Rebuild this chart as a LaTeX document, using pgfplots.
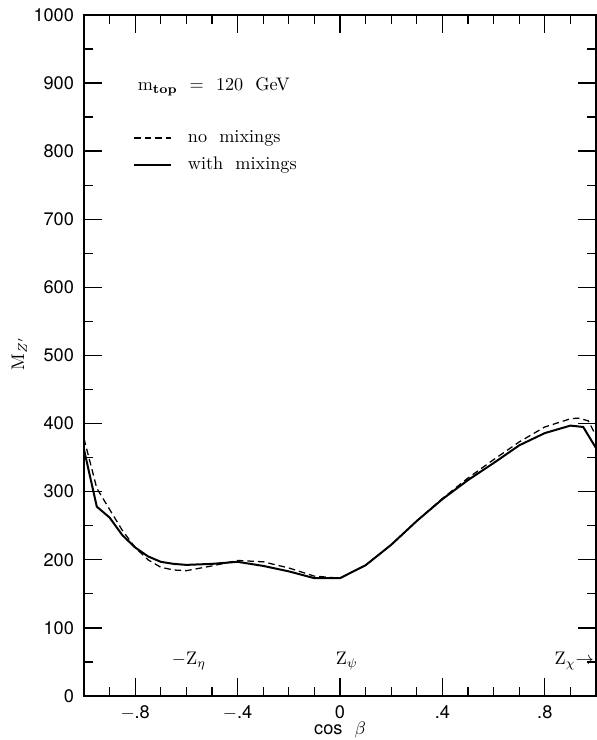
\documentclass[border=0pt]{standalone}
\usepackage{fontspec}
\usepackage{pgfplots}
\pgfplotsset{compat=1.18}
\usetikzlibrary{calc}
\newfontfamily\helv{TeX Gyre Heros}

% no mixings
\pgfplotstableread{
x y
-1.00 378
-0.95 305
-0.90 274
-0.85 243
-0.80 218
-0.75 200
-0.70 189
-0.65 185
-0.60 184
-0.50 191
-0.40 199
-0.30 197
-0.20 188
-0.10 176
 0.00 173
 0.10 192
 0.20 222
 0.30 257
 0.40 290
 0.50 320
 0.60 347
 0.70 373
 0.80 395
 0.90 407
 0.93 408
 0.97 404
 1.00 382
}\nomix

% with mixings
\pgfplotstableread{
x y
-1.00 362
-0.95 278
-0.90 262
-0.85 236
-0.80 218
-0.75 205
-0.70 197
-0.65 194
-0.60 192.5
-0.50 194
-0.40 197
-0.30 191
-0.20 183
-0.10 173
 0.00 173
 0.10 192
 0.20 222
 0.30 257
 0.40 289
 0.50 317
 0.60 342
 0.70 368
 0.80 386
 0.90 397
 0.95 395
 1.00 364
}\withmix

\begin{document}
\begin{tikzpicture}
\begin{axis}[
    scale only axis,
    width=281.6pt, height=374.6pt,
    xmin=-1, xmax=1, ymin=0, ymax=1000,
    axis line style={line width=0.8pt},
    xtick={-0.8,-0.4,0,0.4,0.8},
    xticklabels={{$-$.8},{$-$.4},0,.4,.8},
    minor xtick={-0.9,-0.7,-0.6,-0.5,-0.3,-0.2,-0.1,0.1,0.2,0.3,0.5,0.6,0.7,0.9},
    ytick={0,100,...,1000},
    minor ytick={50,150,...,950},
    major tick length=9.9pt, minor tick length=5pt,
    every tick/.style={black, line width=0.7pt},
    tick align=inside,
    ticklabel style={font=\helv},
    /pgf/number format/assume math mode=true,
    /pgf/number format/1000 sep={},
    yticklabel style={xshift=-2pt},
    xticklabel style={yshift=-2pt},
    legend style={draw=none, fill=none, at={(axis cs:-0.81,836)}, anchor=north west,
      font=\normalsize, row sep=2.5pt, inner sep=0pt},
    legend cell align=left,
    legend image code/.code={\draw[#1] (0cm,0cm) -- (0.72cm,0cm);},
]
\coordinate (sw) at (rel axis cs:0,0);
\coordinate (ne) at (rel axis cs:1,1);
\addplot[black, line width=0.7pt, dash pattern=on 3.6pt off 2.2pt] table[x=x,y=y] {\nomix};
\addlegendentry{\ \ no\ \ mixings}
\addplot[black, line width=1.1pt] table[x=x,y=y] {\withmix};
\addlegendentry{\ \ with\ \ mixings}
\node[anchor=west, font=\normalsize] at (axis cs:-0.815,894) {m\textsubscript{\textbf{top}}\ \ =\ \ 120\ \ GeV};
\node[font=\normalsize] at (axis cs:-0.59,51) {$-$Z$_\eta$};
\node[font=\normalsize] at (axis cs:0.027,51) {Z$_\psi$};
\node[font=\normalsize] at (axis cs:0.915,51) {Z$_\chi$$\rightarrow$};
\end{axis}
\node at ($(sw)+(140.8pt,-18.8pt)$) {{\helv cos}\ \ $\beta$};
\node[rotate=90] at ($(sw)+(-35.6pt,188.3pt)$) {M$_{Z'}$};
\pgfresetboundingbox
\path ($(sw)+(-46.2pt,-24.2pt)$) rectangle ($(ne)+(0.4pt,8.2pt)$);
\end{tikzpicture}
\end{document}
